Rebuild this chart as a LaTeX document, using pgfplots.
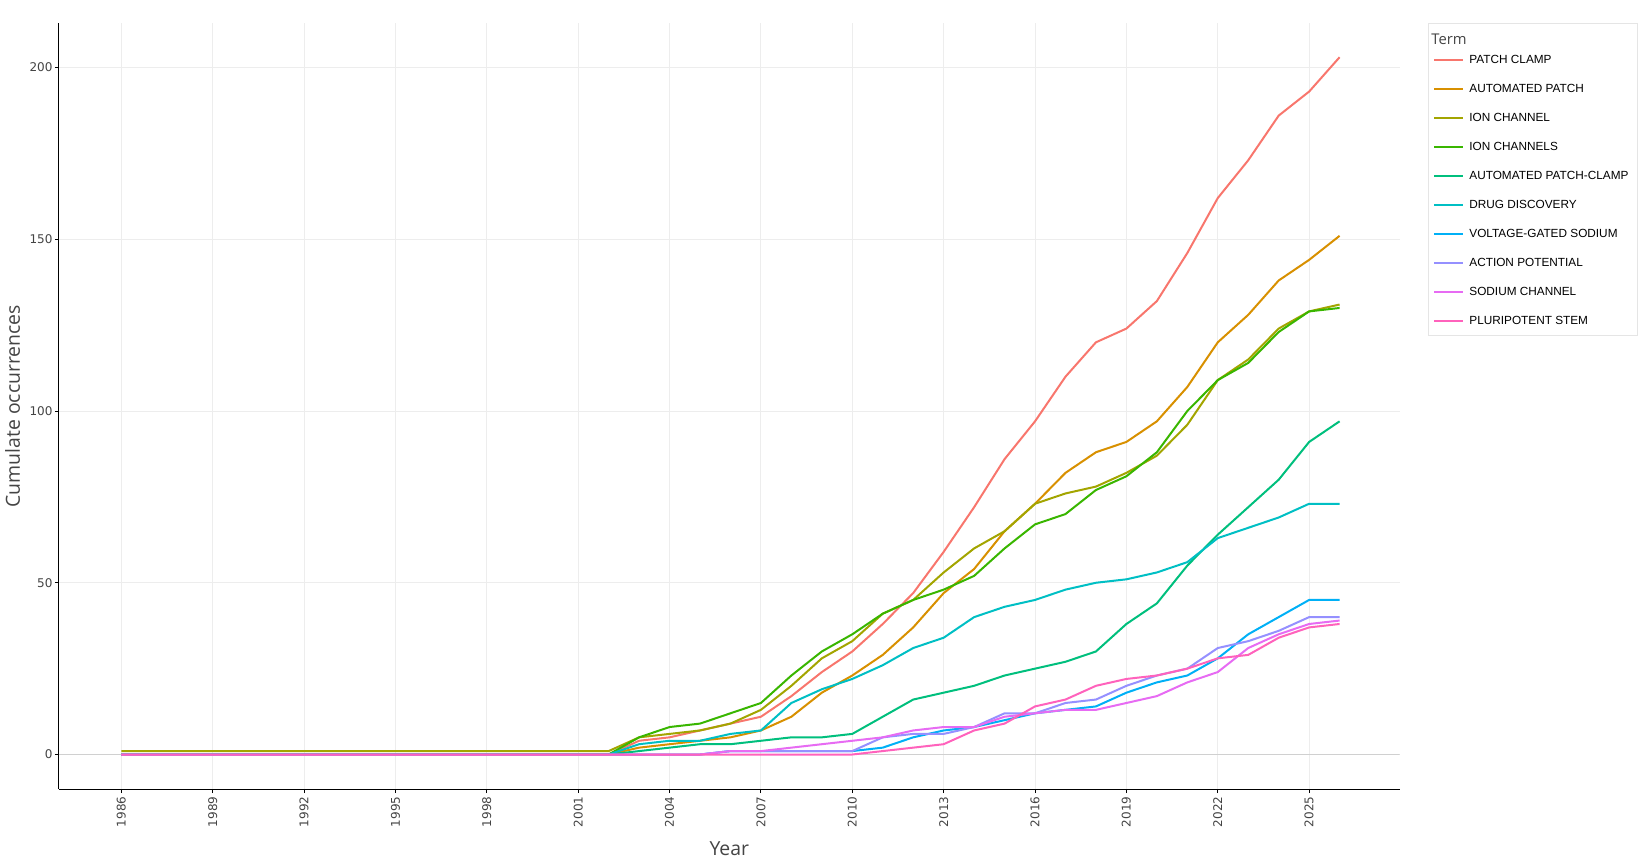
\documentclass[border=0pt]{standalone}
\usepackage{pgfplots}
\pgfplotsset{compat=1.18}
\usepackage{pgfplotstable}
\usepackage{fontspec}
\setmainfont{Liberation Sans}
\newfontfamily\tickfont{DejaVu Sans}
\newfontfamily\titlefont{Open Sans}
\newfontfamily\legfont{Liberation Sans}
\definecolor{cPC}{HTML}{F8766D}
\definecolor{cAP}{HTML}{D89000}
\definecolor{cIC}{HTML}{A3A500}
\definecolor{cICs}{HTML}{39B600}
\definecolor{cAPC}{HTML}{00BF7D}
\definecolor{cDD}{HTML}{00BFC4}
\definecolor{cVGS}{HTML}{00B0F6}
\definecolor{cACP}{HTML}{9590FF}
\definecolor{cSC}{HTML}{E76BF3}
\definecolor{cPS}{HTML}{FF62BC}
\definecolor{gridc}{HTML}{EDEDED}
\definecolor{zeroc}{HTML}{D0D0D0}
\definecolor{textc}{HTML}{444444}
\definecolor{legbox}{HTML}{E5E5E5}

\pgfplotstableread{
year PC AP IC ICs APC DD VGS ACP SC PS
1986 0 0 1 0 0 0 0 0 0 0
1987 0 0 1 0 0 0 0 0 0 0
1988 0 0 1 0 0 0 0 0 0 0
1989 0 0 1 0 0 0 0 0 0 0
1990 0 0 1 0 0 0 0 0 0 0
1991 0 0 1 0 0 0 0 0 0 0
1992 0 0 1 0 0 0 0 0 0 0
1993 0 0 1 0 0 0 0 0 0 0
1994 0 0 1 0 0 0 0 0 0 0
1995 0 0 1 0 0 0 0 0 0 0
1996 0 0 1 0 0 0 0 0 0 0
1997 0 0 1 0 0 0 0 0 0 0
1998 0 0 1 0 0 0 0 0 0 0
1999 0 0 1 0 0 0 0 0 0 0
2000 0 0 1 0 0 0 0 0 0 0
2001 0 0 1 0 0 0 0 0 0 0
2002 0 0 1 0 0 0 0 0 0 0
2003 4 2 5 5 1 3 0 0 0 0
2004 5 3 6 8 2 4 0 0 0 0
2005 7 4 7 9 3 4 0 0 0 0
2006 9 5 9 12 3 6 1 1 1 0
2007 11 7 13 15 4 7 1 1 1 0
2008 17 11 20 23 5 15 1 1 2 0
2009 24 18 28 30 5 19 1 1 3 0
2010 30 23 33 35 6 22 1 1 4 0
2011 38 29 41 41 11 26 2 5 5 1
2012 47 37 45 45 16 31 5 6 7 2
2013 59 47 53 48 18 34 7 6 8 3
2014 72 54 60 52 20 40 8 8 8 7
2015 86 65 65 60 23 43 10 12 11 9
2016 97 73 73 67 25 45 12 12 12 14
2017 110 82 76 70 27 48 13 15 13 16
2018 120 88 78 77 30 50 14 16 13 20
2019 124 91 82 81 38 51 18 20 15 22
2020 132 97 87 88 44 53 21 23 17 23
2021 146 107 96 100 55 56 23 25 21 25
2022 162 120 109 109 64 63 28 31 24 28
2023 173 128 115 114 72 66 35 33 31 29
2024 186 138 124 123 80 69 40 36 35 34
2025 193 144 129 129 91 73 45 40 38 37
2026 203 151 131 130 97 73 45 40 39 38
}\data

\begin{document}
\begin{tikzpicture}
\begin{axis}[
  scale only axis,
  width=670.35pt, height=383pt,
  xmin=1983.95, xmax=2027.97,
  ymin=-10.1, ymax=212.9,
  axis x line*=bottom, axis y line*=left,
  axis line style={black, line width=0.6pt, -},
  xtick={1986,1989,...,2025},
  ytick={0,50,...,200},
  tick align=outside, major tick length=2pt,
  tick style={black, line width=0.5pt},
  grid=major,
  major grid style={color=gridc, line width=0.5pt},
  /pgf/number format/assume math mode=true,
  x tick label style={/pgf/number format/1000 sep={}, rotate=90, anchor=east, inner sep=1.5pt,
    font=\tickfont\fontsize{6}{7}\selectfont, text=textc},
  y tick label style={inner sep=1pt, font=\tickfont\fontsize{6}{7}\selectfont, text=textc},
  xlabel={Year},
  ylabel={Cumulate occurrences},
  every axis x label/.style={at={(axis description cs:0.5,-0.0865)}, anchor=base,
    font=\titlefont\fontsize{9.7}{11}\selectfont, text=textc},
  every axis y label/.style={at={(axis description cs:-0.03453,0.5)}, rotate=90, anchor=center,
    font=\titlefont\fontsize{9.7}{11}\selectfont, text=textc},
  legend cell align=left,
  legend image code/.code={\draw[#1, line width=1pt] (0pt,0pt) -- (14.5pt,0pt);},
  legend style={at={(axis description cs:1,1)}, anchor=north west, xshift=16.7pt, yshift=-15pt,
    draw=none, fill=none, inner sep=0pt, row sep=8pt, column sep=2.5pt,
    font=\legfont\fontsize{5.9}{7}\selectfont,
    nodes={inner sep=0pt, text height=5pt, text depth=1.5pt}},
  every axis plot/.append style={line width=1pt},
]
\addplot[zeroc, line width=0.6pt, forget plot] coordinates {(1983.95,0) (2027.97,0)};
\addplot[cPC] table[x=year,y=PC]{\data}; \addlegendentry{PATCH CLAMP}
\addplot[cAP] table[x=year,y=AP]{\data}; \addlegendentry{AUTOMATED PATCH}
\addplot[cIC] table[x=year,y=IC]{\data}; \addlegendentry{ION CHANNEL}
\addplot[cICs] table[x=year,y=ICs]{\data}; \addlegendentry{ION CHANNELS}
\addplot[cAPC] table[x=year,y=APC]{\data}; \addlegendentry{AUTOMATED PATCH-CLAMP}
\addplot[cDD] table[x=year,y=DD]{\data}; \addlegendentry{DRUG DISCOVERY}
\addplot[cVGS] table[x=year,y=VGS]{\data}; \addlegendentry{VOLTAGE-GATED SODIUM}
\addplot[cACP] table[x=year,y=ACP]{\data}; \addlegendentry{ACTION POTENTIAL}
\addplot[cSC] table[x=year,y=SC]{\data}; \addlegendentry{SODIUM CHANNEL}
\addplot[cPS] table[x=year,y=PS]{\data}; \addlegendentry{PLURIPOTENT STEM}
\end{axis}
\draw[legbox, line width=0.5pt] ([xshift=14.2pt,yshift=0.1pt]current axis.north east) rectangle ++(104.5pt,-156pt);
\node[anchor=west, inner sep=0pt, font=\titlefont\fontsize{7.4}{8}\selectfont, text=textc]
  at ([xshift=15.7pt,yshift=-7.9pt]current axis.north east) {Term};
\pgfresetboundingbox
\path ([xshift=-29.45pt,yshift=-37.4pt]current axis.south west) rectangle ++(825pt,432pt);
\end{tikzpicture}
\end{document}
